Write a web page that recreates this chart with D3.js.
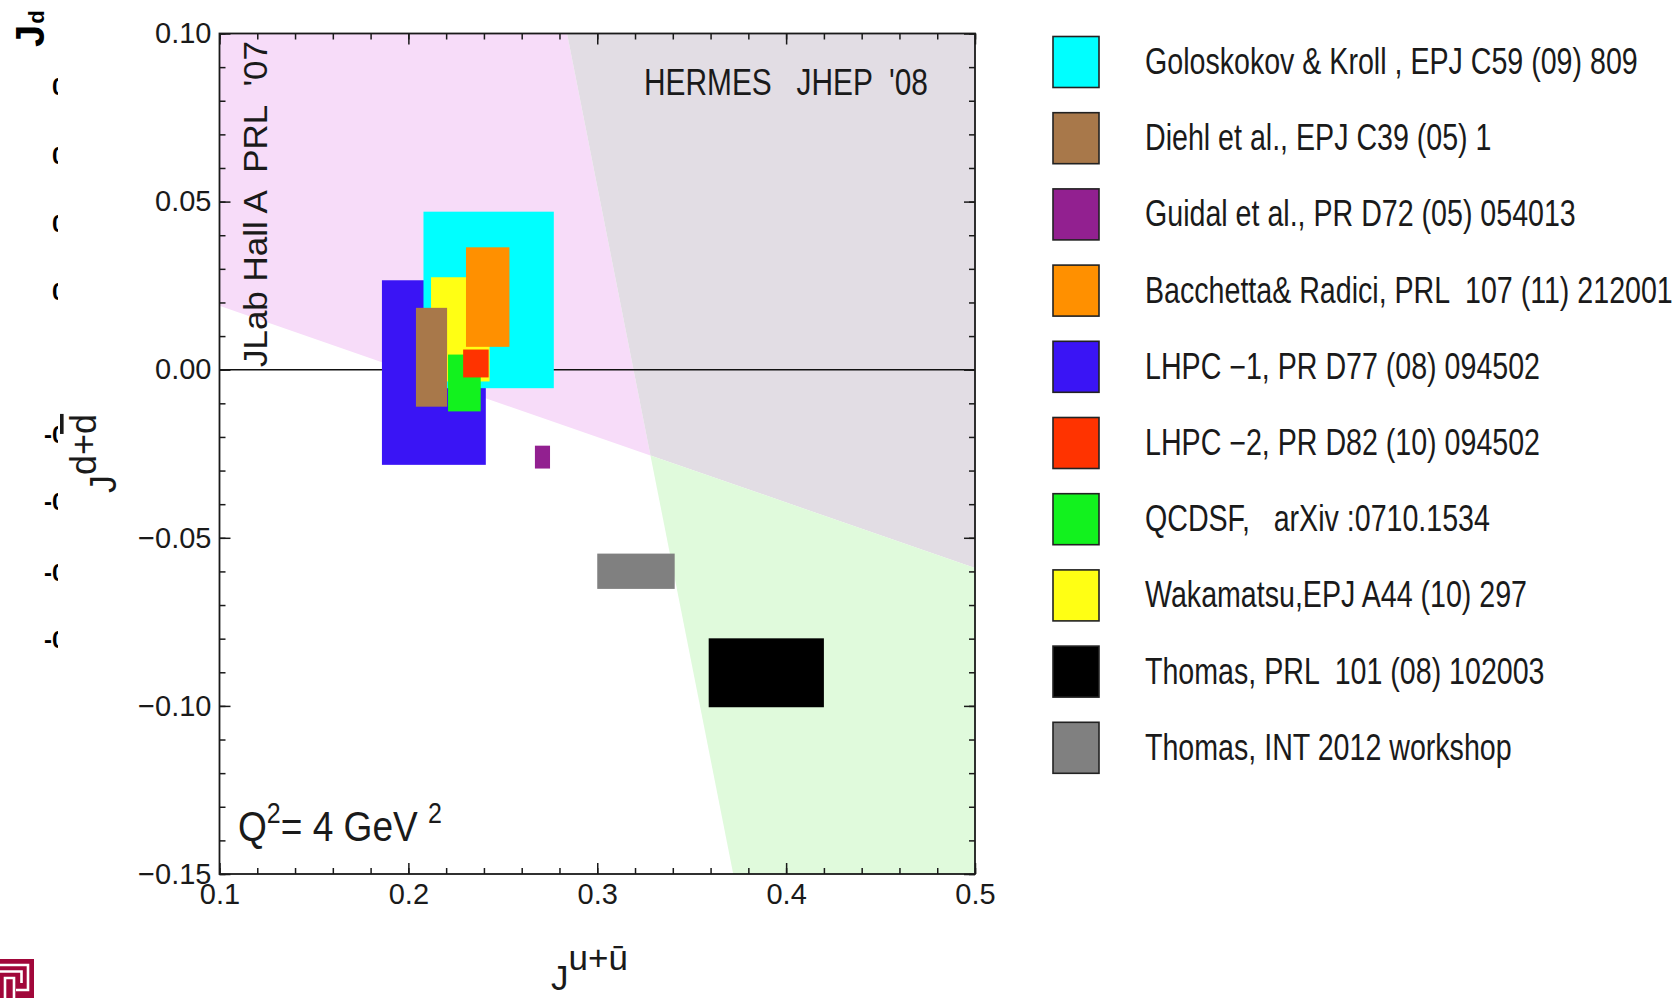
<!DOCTYPE html>
<html>
<head>
<meta charset="utf-8">
<script src="https://cdn.jsdelivr.net/npm/d3@7"></script>
<style>
  html, body { margin: 0; padding: 0; background: #ffffff; }
  svg { display: block; }
  text { font-family: "Liberation Sans", Arial, sans-serif; fill: #1a1a1a; white-space: pre; }
</style>
</head>
<body>
<svg id="chart" width="1680" height="998"></svg>
<script>
// Total angular momentum of u+ubar vs d+dbar quarks at Q^2 = 4 GeV^2

// Model / lattice estimates, each a box [Ju range] x [Jd range]
const sources = [
  "Goloskokov & Kroll , EPJ C59 (09) 809",
  "Diehl et al., EPJ C39 (05) 1",
  "Guidal et al., PR D72 (05) 054013",
  "Bacchetta& Radici, PRL  107 (11) 212001",
  "LHPC \u22121, PR D77 (08) 094502",
  "LHPC \u22122, PR D82 (10) 094502",
  "QCDSF,   arXiv :0710.1534",
  "Wakamatsu,EPJ A44 (10) 297",
  "Thomas, PRL  101 (08) 102003",
  "Thomas, INT 2012 workshop"
];
const sourceColors = ["#00ffff", "#a8784a", "#922090", "#ff9000", "#3a14f5",
                      "#ff3300", "#12f21e", "#ffff14", "#000000", "#808080"];
const juLow  = [0.208, 0.204, 0.267, 0.2305, 0.186, 0.229, 0.221, 0.212, 0.359, 0.300];
const juHigh = [0.277, 0.2205, 0.275, 0.2535, 0.241, 0.2425, 0.2383, 0.243, 0.420, 0.341];
const jdLow  = [-0.0055, -0.011, -0.0294, 0.0068, -0.0283, -0.0023, -0.0124, -0.0035, -0.1004, -0.0652];
const jdHigh = [0.047, 0.0184, -0.0226, 0.0364, 0.0266, 0.006, 0.0045, 0.0275, -0.0799, -0.0547];
// stacking order of the boxes (back to front)
const paintOrder = [4, 0, 7, 3, 1, 6, 5, 2, 9, 8];

// Experimental constraints: band edges
const jlabEdgeJu = [0.1, 0.5];
const jlabEdgeJd = [0.019, -0.059];
const hermesEdgeJd = [0.10, -0.15];
const hermesEdgeJu = [0.284, 0.372];

// Axis ticks
const xTicks = [0.1, 0.2, 0.3, 0.4, 0.5];
const xTickLabels = ["0.1", "0.2", "0.3", "0.4", "0.5"];
const yTicks = [0.10, 0.05, 0.00, -0.05, -0.10, -0.15];
const yTickLabels = ["0.10", "0.05", "0.00", "\u22120.05", "\u22120.10", "\u22120.15"];

const svg = d3.select("#chart");
const L = 219.5, R = 975, T = 33.5, B = 874;
const x = d3.scaleLinear().domain([0.1, 0.5]).range([L, R]);
const y = d3.scaleLinear().domain([-0.15, 0.10]).range([B, T]);

// text placed at an anchor, optionally rotated, squeezed horizontally to a given run length
function fittedText(parent, opt, build) {
  const outer = parent.append("g")
    .attr("transform", `translate(${opt.x},${opt.y}) rotate(${opt.rotate || 0})`);
  const inner = outer.append("g");
  const t = inner.append("text").attr("x", 0).attr("y", 0).style("font-size", opt.size + "px");
  build(t);
  const s = opt.scale || (opt.width ? opt.width / t.node().getComputedTextLength() : 1);
  inner.attr("transform", `scale(${s},1)`);
  return t;
}

const defs = svg.append("defs");
defs.append("clipPath").attr("id", "plotClip")
  .append("rect").attr("x", L).attr("y", T).attr("width", R - L).attr("height", B - T);

// --- shaded constraint regions ---
const jb = (jlabEdgeJd[1] - jlabEdgeJd[0]) / (jlabEdgeJu[1] - jlabEdgeJu[0]);
const ja = jlabEdgeJd[0] - jb * jlabEdgeJu[0];
const hd = (hermesEdgeJu[1] - hermesEdgeJu[0]) / (hermesEdgeJd[1] - hermesEdgeJd[0]);
const hc = hermesEdgeJu[0] - hd * hermesEdgeJd[0];
const ix = (hc + hd * ja) / (1 - hd * jb);
const iy = ja + jb * ix;

const line = d3.line().x(d => x(d[0])).y(d => y(d[1]));
const regions = [
  { fill: "#f7dcf9", pts: [[0.1, 0.10], [hermesEdgeJu[0], 0.10], [ix, iy], [0.1, jlabEdgeJd[0]]] },
  { fill: "#e2dde4", pts: [[hermesEdgeJu[0], 0.10], [0.5, 0.10], [0.5, jlabEdgeJd[1]], [ix, iy]] },
  { fill: "#e0fadc", pts: [[ix, iy], [0.5, jlabEdgeJd[1]], [0.5, -0.15], [hermesEdgeJu[1], -0.15]] }
];
const bg = svg.append("g").attr("clip-path", "url(#plotClip)");
bg.selectAll("path").data(regions).join("path")
  .attr("d", d => line(d.pts) + "Z")
  .attr("fill", d => d.fill);

// zero line
bg.append("line")
  .attr("x1", x(0.1)).attr("x2", x(0.5)).attr("y1", y(0)).attr("y2", y(0))
  .attr("stroke", "#111").attr("stroke-width", 1.6);

// --- boxes ---
svg.append("g").attr("clip-path", "url(#plotClip)")
  .selectAll("rect").data(paintOrder).join("rect")
  .attr("x", i => x(juLow[i]))
  .attr("y", i => y(jdHigh[i]))
  .attr("width", i => x(juHigh[i]) - x(juLow[i]))
  .attr("height", i => y(jdLow[i]) - y(jdHigh[i]))
  .attr("fill", i => sourceColors[i]);

// --- axes (inward ticks on all four sides) ---
const xMinor = d3.range(0.1, 0.5001, 0.02);
const yMinor = d3.range(-0.15, 0.1001, 0.01);
function styleAxis(g) {
  g.select(".domain").remove();
  g.selectAll("line").attr("stroke", "#1a1a1a").attr("stroke-width", 1.5);
  g.selectAll("text").attr("fill", "#1a1a1a").style("font-size", "29px")
    .style("font-family", '"Liberation Sans", Arial, sans-serif');
}
svg.append("g").attr("transform", `translate(0,${B})`)
  .call(d3.axisBottom(x).tickValues(xMinor).tickSize(-6).tickFormat(""))
  .call(styleAxis);
svg.append("g").attr("transform", `translate(0,${B})`)
  .call(d3.axisBottom(x).tickValues(xTicks).tickSize(-11).tickPadding(9)
    .tickFormat((d, i) => xTickLabels[i]))
  .call(styleAxis);
svg.append("g").attr("transform", `translate(0,${T})`)
  .call(d3.axisTop(x).tickValues(xMinor).tickSize(-6).tickFormat(""))
  .call(styleAxis);
svg.append("g").attr("transform", `translate(0,${T})`)
  .call(d3.axisTop(x).tickValues(xTicks).tickSize(-11).tickFormat(""))
  .call(styleAxis);
svg.append("g").attr("transform", `translate(${L},0)`)
  .call(d3.axisLeft(y).tickValues(yMinor).tickSize(-6).tickFormat(""))
  .call(styleAxis);
svg.append("g").attr("transform", `translate(${L},0)`)
  .call(d3.axisLeft(y).tickValues(yTicks).tickSize(-11).tickPadding(8)
    .tickFormat((d, i) => yTickLabels[i]))
  .call(styleAxis);
svg.append("g").attr("transform", `translate(${R},0)`)
  .call(d3.axisRight(y).tickValues(yMinor).tickSize(-6).tickFormat(""))
  .call(styleAxis);
svg.append("g").attr("transform", `translate(${R},0)`)
  .call(d3.axisRight(y).tickValues(yTicks).tickSize(-11).tickFormat(""))
  .call(styleAxis);

// frame
svg.append("rect").attr("x", L).attr("y", T).attr("width", R - L).attr("height", B - T)
  .attr("fill", "none").attr("stroke", "#1a1a1a").attr("stroke-width", 1.8);

// --- annotations ---
fittedText(svg, { x: 644, y: 95, size: 37, width: 284 },
  t => t.text("HERMES   JHEP  '08"));
fittedText(svg, { x: 267, y: 367, rotate: -90, size: 33, width: 326 },
  t => t.text("JLab Hall A  PRL  '07"));
fittedText(svg, { x: 238, y: 841, size: 43, width: 204 }, t => {
  t.append("tspan").text("Q");
  t.append("tspan").attr("dy", -18).style("font-size", "29px").text("2");
  t.append("tspan").attr("dy", 18).text("= 4 GeV ");
  t.append("tspan").attr("dy", -18).style("font-size", "29px").text("2");
});

// axis titles
fittedText(svg, { x: 551, y: 990, size: 35 }, t => {
  t.append("tspan").text("J");
  t.append("tspan").attr("dy", -20).text("u+\u016B");
});
fittedText(svg, { x: 116, y: 493, rotate: -90, size: 36 }, t => {
  t.append("tspan").text("J");
  t.append("tspan").attr("dy", -20).text("d+");
  t.append("tspan").style("text-decoration", "overline").text("d");
});

// --- legend ---
const legend = svg.append("g");
const rowY = i => 62 + i * 76.2;
legend.selectAll("rect").data(sources).join("rect")
  .attr("x", 1053).attr("y", (d, i) => rowY(i) - 25.5)
  .attr("width", 46).attr("height", 51)
  .attr("fill", (d, i) => sourceColors[i])
  .attr("stroke", "#222").attr("stroke-width", 1.6);
// common horizontal squeeze, set by the longest entry
const probe = legend.append("text").style("font-size", "36px").text(sources[3]);
const legendScale = 528 / probe.node().getComputedTextLength();
probe.remove();
sources.forEach((s, i) => {
  fittedText(legend, { x: 1145, y: rowY(i) + 12, size: 36, scale: legendScale }, t => t.text(s));
});

// --- slide fragments at the left margin ---
defs.append("clipPath").attr("id", "edgeClip")
  .append("rect").attr("x", 0).attr("y", 0).attr("width", 58).attr("height", 998);
const edge = svg.append("g").attr("clip-path", "url(#edgeClip)");
const edgeStyle = s => s.style("font-family", '"Liberation Sans", Arial, sans-serif')
  .style("font-weight", "bold").style("fill", "#000");
const jd = edge.append("text").attr("transform", "translate(44,47) rotate(-90)")
  .call(edgeStyle).style("font-size", "40px");
jd.append("tspan").text("J");
jd.append("tspan").attr("dx", 1).style("font-size", "22px").text("d");
[86, 155, 223, 291].forEach(cy => {
  edge.append("text").attr("x", 52).attr("y", cy + 8.5).call(edgeStyle).style("font-size", "24px").text("0");
});
[434, 501, 572, 639].forEach(cy => {
  edge.append("text").attr("x", 44).attr("y", cy + 8.5).call(edgeStyle).style("font-size", "24px").text("-0");
});

// logo mark, bottom-left corner
const logo = svg.append("g").attr("fill", "none").attr("stroke", "#fff").attr("stroke-width", 2.6);
logo.append("rect").attr("x", 0).attr("y", 959).attr("width", 34).attr("height", 39)
  .attr("fill", "#a1073a").attr("stroke", "none");
logo.append("path").attr("d", "M0,965 H28 V990 H16");
logo.append("path").attr("d", "M0,971.5 H21.5 V983");
logo.append("path").attr("d", "M5,998 V978 H14 V998");
</script>
</body>
</html>
